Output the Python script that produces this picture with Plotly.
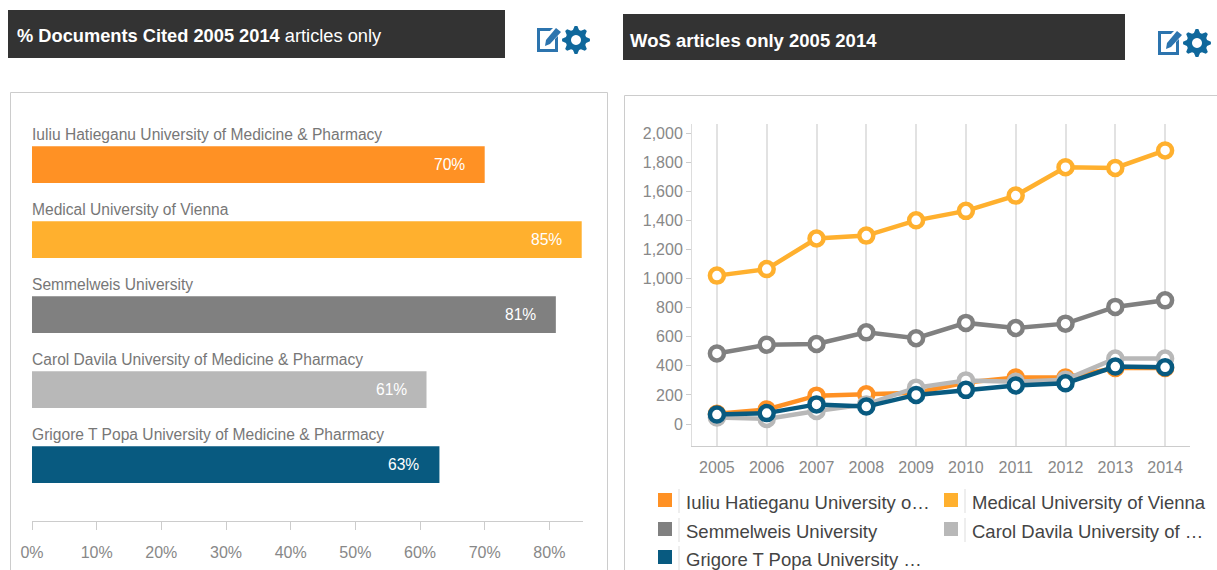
import math
import plotly.graph_objects as go

W, H = 1217, 570

universities = [
    "Iuliu Hatieganu University of Medicine & Pharmacy",
    "Medical University of Vienna",
    "Semmelweis University",
    "Carol Davila University of Medicine & Pharmacy",
    "Grigore T Popa University of Medicine & Pharmacy",
]
colors = ["#FF9124", "#FFB02E", "#808080", "#B8B8B8", "#085A80"]
pct_cited = [70, 85, 81, 61, 63]

years = ["2005", "2006", "2007", "2008", "2009", "2010", "2011", "2012", "2013", "2014"]
iuliu = [70, 100, 195, 205, 215, 285, 320, 320, 385, 385]
vienna = [1020, 1065, 1275, 1295, 1400, 1465, 1570, 1765, 1760, 1880]
semmelweis = [485, 545, 550, 630, 590, 695, 660, 690, 805, 850]
carol = [45, 35, 90, 135, 250, 300, 290, 305, 450, 450]
grigore = [65, 75, 135, 120, 200, 235, 265, 280, 395, 390]
series = [iuliu, vienna, semmelweis, carol, grigore]

legend_labels = [
    "Iuliu Hatieganu University o…",
    "Medical University of Vienna",
    "Semmelweis University",
    "Carol Davila University of …",
    "Grigore T Popa University …",
]

FONT = "Liberation Sans"
px = lambda x: x / W
py = lambda y: 1 - y / H

fig = go.Figure()

fig.add_trace(go.Bar(
    x=pct_cited, y=universities, orientation="h", marker=dict(color=colors, line_width=0),
    width=0.49, xaxis="x", yaxis="y", showlegend=False, hoverinfo="x+y",
))
for name, vals, col in zip(universities, series, colors):
    fig.add_trace(go.Scatter(
        x=years, y=vals, name=name, mode="lines+markers", xaxis="x2", yaxis="y2",
        line=dict(color=col, width=4.5),
        marker=dict(symbol="circle", size=14, color="white", line=dict(color=col, width=4.5)),
        showlegend=False, cliponaxis=False,
    ))

shapes = []
ann = []


def rect(x0, y0, x1, y1, **kw):
    shapes.append(dict(type="rect", xref="paper", yref="paper", x0=px(x0), x1=px(x1),
                       y0=py(y0), y1=py(y1), layer="below", **kw))


def text(x, y, s, size, color, anchor="left"):
    ann.append(dict(xref="paper", yref="paper", x=px(x), y=py(y), text=s, showarrow=False,
                    xanchor=anchor, yanchor="middle", align="left",
                    font=dict(family=FONT, size=size, color=color), borderpad=0))


# title bars
rect(8, 10, 505, 58, fillcolor="#333333", line=dict(color="#cccccc", width=0))
rect(623, 14, 1125, 60, fillcolor="#333333", line=dict(color="#cccccc", width=0))
text(16, 36, "<b>% Documents Cited 2005 2014</b> articles only", 18.25, "white")
text(629, 40, "<b>WoS articles only 2005 2014</b>", 18.5, "white")

# panels
rect(10.5, 92.5, 607.5, 600, fillcolor="white", line=dict(color="#cccccc", width=1))
rect(624.5, 95.5, 1240, 600, fillcolor="white", line=dict(color="#cccccc", width=1))


def gear_path(cx, cy, r_out, r_in, r_hole, teeth=8):
    pts = []
    n = teeth * 4
    for i in range(n):
        a = 2 * math.pi * (i - 0.5) / n
        r = r_out if i % 4 in (0, 1) else r_in
        pts.append((cx + r * math.cos(a), cy + r * math.sin(a)))
    d = "M " + " L ".join(f"{px(x):.5f},{py(y):.5f}" for x, y in pts) + " Z"
    hole = []
    for i in range(24):
        a = 2 * math.pi * i / 24
        hole.append((cx + r_hole * math.cos(a), cy + r_hole * math.sin(a)))
    d += " M " + " L ".join(f"{px(x):.5f},{py(y):.5f}" for x, y in reversed(hole)) + " Z"
    return d


def poly(points):
    return "M " + " L ".join(f"{px(x):.5f},{py(y):.5f}" for x, y in points) + " Z"


def icons(dx, dy):
    blue = "#2C74AE"
    gear = "#0F689C"
    # edit box
    shapes.append(dict(type="path", xref="paper", yref="paper", layer="above",
                       path=poly([(dx + 537, dy + 28), (dx + 553, dy + 28), (dx + 550, dy + 31),
                                  (dx + 540, dy + 31), (dx + 540, dy + 49), (dx + 555, dy + 49),
                                  (dx + 555, dy + 39), (dx + 558, dy + 36), (dx + 558, dy + 52),
                                  (dx + 537, dy + 52)]),
                       fillcolor=blue, line_width=0))
    # pencil
    shapes.append(dict(type="path", xref="paper", yref="paper", layer="above",
                       path=poly([(dx + 545, dy + 46), (dx + 546, dy + 40), (dx + 556, dy + 28),
                                  (dx + 561, dy + 32), (dx + 550, dy + 44)]),
                       fillcolor=blue, line_width=0))
    # gear
    shapes.append(dict(type="path", xref="paper", yref="paper", layer="above",
                       path=gear_path(dx + 576, dy + 40, 14, 10.5, 5),
                       fillcolor=gear, line_width=0))


icons(0, 0)
icons(621, 3)

# left bar labels
for name, v in zip(universities, pct_cited):
    ann.append(dict(xref="x", yref="y", x=0, y=name, text=name, showarrow=False, xanchor="left",
                    yanchor="bottom", yshift=20, xshift=-2,
                    font=dict(family=FONT, size=15.6, color="#777777")))
    ann.append(dict(xref="x", yref="y", x=v, y=name, text=f"{v}%", showarrow=False, xanchor="right",
                    yanchor="middle", xshift=-18,
                    font=dict(family=FONT, size=15.6, color="white")))

# legend
leg_x = [658, 944]
leg_y = [501, 530, 558]
pos = [(0, 0), (1, 0), (0, 1), (1, 1), (0, 2)]
for label, col, (c, r) in zip(legend_labels, colors, pos):
    x, y = leg_x[c], leg_y[r]
    rect(x, y - 8, x + 14, y + 6, fillcolor=col, line_width=0)
    shapes.append(dict(type="line", xref="paper", yref="paper", x0=px(x + 21), x1=px(x + 21),
                       y0=py(y - 12), y1=py(y + 12), line=dict(color="#dddddd", width=1)))
    text(x + 27, y + 1, label, 18.5, "#444444")

fig.update_layout(
    width=W, height=H, autosize=False, margin=dict(l=0, r=0, t=0, b=0, autoexpand=False),
    paper_bgcolor="white", plot_bgcolor="rgba(0,0,0,0)",
    font=dict(family=FONT, color="#888888"),
    shapes=shapes, annotations=ann, bargap=0.51,
    xaxis=dict(domain=[px(32), px(583)], range=[0, 85.2], tick0=0, dtick=10, ticksuffix="%",
               showgrid=False, zeroline=False, showline=True, linecolor="#cccccc", linewidth=1,
               ticks="outside", ticklen=8, tickcolor="#cccccc", ticklabelstandoff=9,
               tickfont=dict(size=16, color="#888888"), anchor="y"),
    yaxis=dict(domain=[py(521), py(127)], type="category", categoryorder="array",
               categoryarray=universities, range=[4.75, -0.5], visible=False, anchor="x"),
    xaxis2=dict(domain=[px(692), px(1190)], type="category", range=[-0.5, 9.5], showgrid=True,
                gridcolor="#e2e2e2", gridwidth=2, showline=True, linecolor="#cccccc", linewidth=1,
                ticks="", ticklabelstandoff=7, tickfont=dict(size=16, color="#888888"),
                anchor="y2", zeroline=False),
    yaxis2=dict(domain=[py(446), py(124)], range=[-151, 2062], tick0=0, dtick=200, showgrid=False,
                zeroline=False, showline=True, linecolor="#dddddd", linewidth=1, tickformat=",d",
                ticks="outside", ticklen=5, tickcolor="#cccccc",
                tickfont=dict(size=16, color="#888888"), anchor="x2"),
)

fig.write_html("out.html", config={"displayModeBar": False},
               post_script="document.body.style.margin='0';document.documentElement.style.overflow='hidden';")
